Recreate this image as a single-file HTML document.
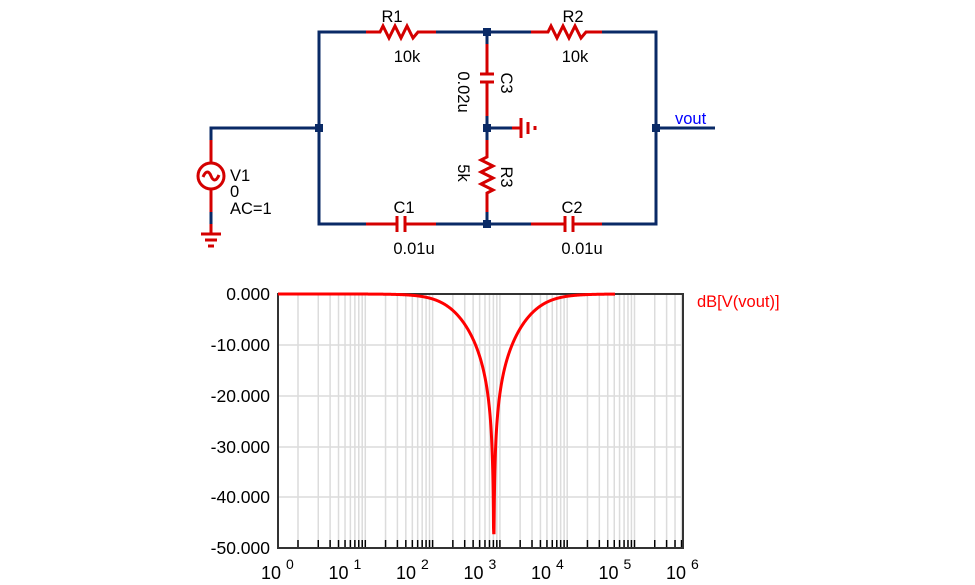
<!DOCTYPE html>
<html><head><meta charset="utf-8"><style>
html,body{margin:0;padding:0;background:#fff;}
svg{display:block;font-family:"Liberation Sans",Arial,sans-serif;}
</style></head><body>
<svg id="s" width="975" height="585" viewBox="0 0 975 585" xmlns="http://www.w3.org/2000/svg">
<g fill="none" stroke-width="3" stroke-linecap="butt">
<g stroke="#0a2a66">
<polyline points="366,32 319,32 319,224 366,224"/>
<line x1="436" y1="32" x2="531" y2="32"/>
<polyline points="602,32 656,32 656,224 602,224"/>
<line x1="436" y1="224" x2="531" y2="224"/>
<polyline points="211,140 211,128 319,128"/>
<line x1="211" y1="212" x2="211" y2="224"/>
<line x1="487" y1="32" x2="487" y2="44"/>
<line x1="487" y1="116" x2="487" y2="140"/>
<line x1="487" y1="212" x2="487" y2="224"/>
<line x1="487" y1="128" x2="512" y2="128"/>
<line x1="656" y1="128" x2="715" y2="128"/>
</g>
<g stroke="#d40000">
<polyline points="366,32 380,32 383,26 389,38 395,26 401,38 407,26 413,38 418,32 436,32"/>
<polyline points="531,32 548,32 551,26 557,38 563,26 569,38 575,26 581,38 586,32 602,32"/>
<line x1="366" y1="224" x2="397" y2="224"/><line x1="405" y1="224" x2="436" y2="224"/>
<line x1="397" y1="216" x2="397" y2="232"/><line x1="405" y1="216" x2="405" y2="232"/>
<line x1="531" y1="224" x2="565" y2="224"/><line x1="573" y1="224" x2="602" y2="224"/>
<line x1="565" y1="216" x2="565" y2="232"/><line x1="573" y1="216" x2="573" y2="232"/>
<line x1="487" y1="44" x2="487" y2="74"/><line x1="487" y1="82" x2="487" y2="116"/>
<line x1="480" y1="74" x2="494" y2="74"/><line x1="480" y1="82" x2="494" y2="82"/>
<polyline points="487,140 487,157 481,160 493,166 481,172 493,178 481,184 493,190 487,193 487,212"/>
<line x1="512" y1="128" x2="521" y2="128"/>
<line x1="521" y1="118" x2="521" y2="138"/><line x1="528" y1="122" x2="528" y2="134"/><line x1="535" y1="126" x2="535" y2="130"/>
<line x1="211" y1="140" x2="211" y2="163"/><line x1="211" y1="189" x2="211" y2="212"/>
<circle cx="211" cy="176" r="13"/>
<path d="M203,177 C206,170 209,171 211,176 C213,181 216,182 219,175"/>
<line x1="211" y1="224" x2="211" y2="234"/>
<line x1="201" y1="234" x2="221" y2="234"/><line x1="205" y1="240" x2="217" y2="240"/><line x1="208" y1="246" x2="214" y2="246"/>
</g>
</g>
<g fill="#0a2a66">
<rect x="315" y="124" width="8" height="8"/><rect x="483" y="28" width="8" height="8"/>
<rect x="483" y="124" width="8" height="8"/><rect x="483" y="220" width="8" height="8"/>
<rect x="652" y="124" width="8" height="8"/>
</g>
<g font-size="16.5" fill="#000">
<text x="392" y="22" text-anchor="middle">R1</text>
<text x="407" y="62" text-anchor="middle">10k</text>
<text x="573" y="22" text-anchor="middle">R2</text>
<text x="575" y="62" text-anchor="middle">10k</text>
<text x="404" y="213" text-anchor="middle">C1</text>
<text x="414" y="254" text-anchor="middle">0.01u</text>
<text x="572" y="213" text-anchor="middle">C2</text>
<text x="582" y="254" text-anchor="middle">0.01u</text>
<text x="230" y="181">V1</text>
<text x="230" y="197">0</text>
<text x="230" y="214">AC=1</text>
<text transform="translate(501,83) rotate(90)" text-anchor="middle">C3</text>
<text transform="translate(458,92) rotate(90)" text-anchor="middle">0.02u</text>
<text transform="translate(501,177) rotate(90)" text-anchor="middle">R3</text>
<text transform="translate(458,173) rotate(90)" text-anchor="middle">5k</text>
<text x="675" y="124" fill="#0000ff">vout</text>
</g>
<g id="grid" stroke="#dcdcdc" stroke-width="1.5"></g>
<g id="ticks" stroke="#000" stroke-width="1.5"></g>
<rect x="278" y="294" width="405" height="254" fill="none" stroke="#333" stroke-width="2"/>
<g font-size="17.5" fill="#000" text-anchor="end">
<text x="270" y="300">0.000</text><text x="270" y="351">-10.000</text><text x="270" y="402">-20.000</text>
<text x="270" y="453">-30.000</text><text x="270" y="503">-40.000</text><text x="270" y="554">-50.000</text>
</g>
<g font-size="18" fill="#000" id="xl"></g>
<path id="curve" fill="none" stroke="#ff0000" stroke-width="3"/>
<text x="697" y="307" font-size="16.5" fill="#ff0000">dB[V(vout)]</text>
</svg>
<script>
var ns="http://www.w3.org/2000/svg";
function el(p,t,a,txt){var e=document.createElementNS(ns,t);for(var k in a)e.setAttribute(k,a[k]);if(txt)e.textContent=txt;document.getElementById(p).appendChild(e);}
[345,396,447,497].forEach(function(y){el("grid","line",{x1:278,x2:683,y1:y,y2:y});});
for(var d=0;d<6;d++){for(var k=1;k<10;k++){var x=298+67.3*(d+Math.log10(k));if(x>682)continue;
el("grid","line",{x1:x,x2:x,y1:294,y2:548});el("ticks","line",{x1:x,x2:x,y1:548,y2:540});}}
for(var d=0;d<=6;d++){var x=278+67.5*d-17;
el("xl","text",{x:x,y:579},"10");el("xl","text",{x:x+25,y:569,"font-size":"14"},""+d);}
var p="";for(var i=0;i<=2000;i++){var lf=5*i/2000;var f=Math.pow(10,lf);var w=2*Math.PI*f*1e-4;
var re=1-w*w,im=4*w;var m=Math.abs(re)/Math.sqrt(re*re+im*im);var db=20*Math.log10(Math.max(m,1e-9));if(db<-47)db=-47;
var x=278+67.4*lf;var y=294-db*5.08;p+=(i?"L":"M")+x.toFixed(2)+","+y.toFixed(2);}
document.getElementById("curve").setAttribute("d",p);
</script>
</body></html>
